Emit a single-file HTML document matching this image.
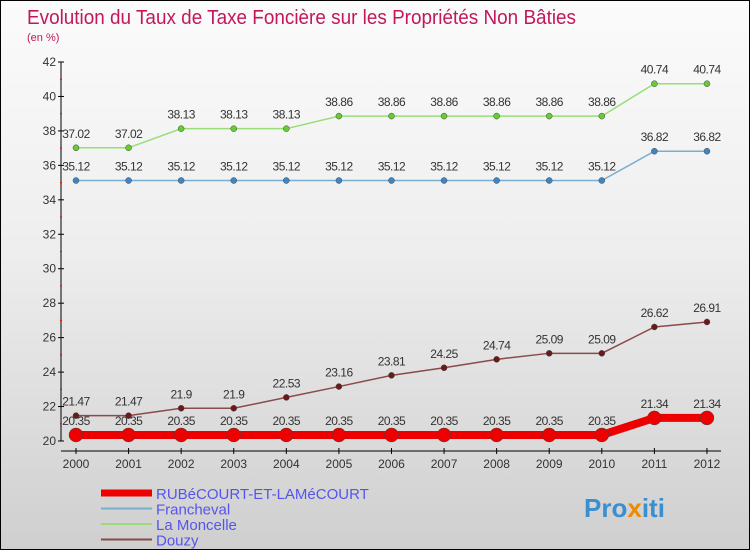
<!DOCTYPE html>
<html><head><meta charset="utf-8"><style>
body{margin:0}
#c{width:748px;height:548px;border:1px solid #000;background:linear-gradient(#fbfbfb,#eeeeee 45%,#cfcfcf);position:relative;overflow:hidden;font-family:"Liberation Sans",sans-serif}
</style></head><body>
<div id="c">
<svg id="s" width="748" height="548" xmlns="http://www.w3.org/2000/svg" style="position:absolute;left:0;top:0">
<text x="26" y="23" font-size="20" fill="#c2185b" textLength="549" lengthAdjust="spacingAndGlyphs">Evolution du Taux de Taxe Foncière sur les Propriétés Non Bâties</text>
<text x="26" y="40" font-size="11" fill="#c2185b">(en %)</text>
<g id="axes"></g><g id="series"></g><g id="legend"></g>
<text x="583" y="516" font-size="26" font-weight="bold" fill="#3a8fd0">Pro<tspan fill="#f08a00">x</tspan>iti</text>
</svg>
</div>
<script>
const years=[2000,2001,2002,2003,2004,2005,2006,2007,2008,2009,2010,2011,2012];
const rub=[20.35,20.35,20.35,20.35,20.35,20.35,20.35,20.35,20.35,20.35,20.35,21.34,21.34];
const franch=[35.12,35.12,35.12,35.12,35.12,35.12,35.12,35.12,35.12,35.12,35.12,36.82,36.82];
const monc=[37.02,37.02,38.13,38.13,38.13,38.86,38.86,38.86,38.86,38.86,38.86,40.74,40.74];
const douzy=[21.47,21.47,21.9,21.9,22.53,23.16,23.81,24.25,24.74,25.09,25.09,26.62,26.91];
const yTicks=[20,22,24,26,28,30,32,34,36,38,40,42];
const NS="http://www.w3.org/2000/svg";
const X=i=>75+i*52.58, Y=v=>440-(v-20)*(379/22);
function mk(t,a,p){const e=document.createElementNS(NS,t);for(const k in a)e.setAttribute(k,a[k]);p.appendChild(e);return e;}
const ax=document.getElementById('axes');
const yl=mk('line',{x1:60,y1:Y(42),x2:60,y2:Y(20),stroke:'#000'},ax);


const xl=mk('line',{x1:60,y1:450,x2:720,y2:450,stroke:'#000'},ax);


yTicks.forEach((v,k)=>{
 mk('line',{x1:57,y1:Y(v),x2:63,y2:Y(v),stroke:'#000'},ax);
 if(k<yTicks.length-1) mk('line',{x1:59,y1:Y(v+1),x2:61,y2:Y(v+1),stroke:'#f00'},ax);
 const t=mk('text',{x:55,y:Y(v)+4,'font-size':12,'text-anchor':'end',fill:'#333'},ax);t.textContent=v;
 
 
});
years.forEach((y,i)=>{
 mk('line',{x1:X(i),y1:447,x2:X(i),y2:453,stroke:'#000'},ax);
 const t=mk('text',{x:X(i),y:467,'font-size':12,'text-anchor':'middle',fill:'#333'},ax);t.textContent=y;
 
 
});
const sg=document.getElementById('series');
function series(data,color,dot,w,r,name){
 const g=mk('g',{},sg);
 
 
 mk('polyline',{points:data.map((v,i)=>X(i)+','+Y(v)).join(' '),fill:'none',stroke:color,'stroke-width':w},g);
 data.forEach((v,i)=>{
  const c=mk('circle',{cx:X(i),cy:Y(v),r:r,fill:dot,stroke:'#444','stroke-width':0.5},g);
  
  
  const t=mk('text',{x:X(i),y:Y(v)-10,'font-size':12,'text-anchor':'middle',fill:'#333','letter-spacing':'-0.5'},g);t.textContent=v;
 });
}
series(franch,'#7aaed0','#3f86c0',1.5,3,'series-francheval');
series(monc,'#99dd77','#66cc33',1.5,3,'series-la-moncelle');
series(douzy,'#8b4a4a','#6b1a1a',1.5,3,'series-douzy');
series(rub,'#ee0000','#ee0000',8,7,'series-rubecourt');
const lg=document.getElementById('legend');
[['RUBéCOURT-ET-LAMéCOURT','#ee0000',7],['Francheval','#7aaed0',2],['La Moncelle','#99dd77',2],['Douzy','#8b4a4a',2]].forEach((d,i)=>{
 const g=mk('g',{},lg);
 
 
 const y=492+i*15.5;
 mk('line',{x1:100,y1:y,x2:151,y2:y,stroke:d[1],'stroke-width':d[2]},g);
 const t=mk('text',{x:155,y:y+6,'font-size':15,fill:'#5555ee'},g);t.textContent=d[0];
});
</script>
</body></html>
